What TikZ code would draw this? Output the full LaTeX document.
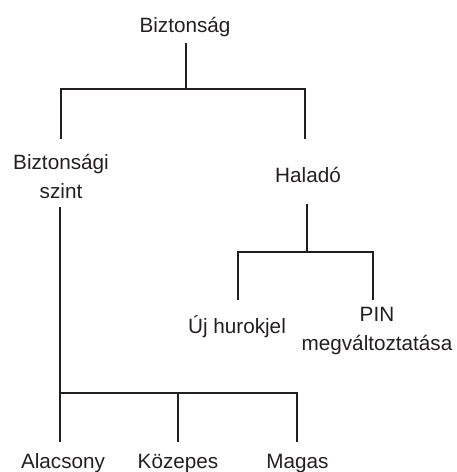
\documentclass[tikz,border=0pt]{standalone}
\usepackage{fontspec}
\setmainfont{Liberation Sans}
\usepackage{xcolor}
\usetikzlibrary{calc}
\definecolor{ink}{HTML}{231F20}
\tikzset{
  label/.style={
    inner sep=0pt,
    anchor=base,
    align=center,
    text=ink,
    font=\fontsize{20.7}{29}\selectfont
  },
  branch/.style={
    draw=ink,
    line width=2.6pt,
    line join=miter
  },
  every picture/.style = {
    x=1pt, y=-1pt
  }
}
\begin{document}
\begin{tikzpicture}
  \useasboundingbox (0,0) rectangle (456,472);
  % labels (base = last line)
  \node[label] (root) at (185,32) {Biztonság};
  \node[label] (sec) at (61,198) {Biztonsági\\szint};
  \node[label] (adv) at (308,182) {Haladó};
  \node[label] (new) at (237,333) {Új hurokjel};
  \node[label] (pin) at (377,350) {PIN\\megváltoztatása};
  \node[label] (low) at (63,468) {Alacsony};
  \node[label] (mid) at (178,468) {Közepes};
  \node[label] (high) at (297.5,468) {Magas};
  % forks
  \coordinate (rootj) at ([xshift=1pt,yshift=-57pt]root.base);
  \coordinate (advj) at ([xshift=-1pt,yshift=-70pt]adv.base);
  \coordinate (secj) at ([xshift=-1pt,yshift=-195pt]sec.base);
  % tree
  \draw[branch] ([xshift=1pt,yshift=-11pt]root.base) -- (rootj);
  \draw[branch] ([yshift=59pt]sec.base) |- (rootj) -| ([xshift=-3pt,yshift=43pt]adv.base);
  \draw[branch] ([xshift=-1pt,yshift=-22pt]adv.base) -- (advj);
  \draw[branch] ([xshift=1pt,yshift=33pt]new.base) |- (advj) -| ([xshift=-4pt,yshift=50pt]pin.base);
  \draw[branch] ([xshift=-1pt,yshift=-9pt]sec.base) -- (secj) -- ([xshift=-3pt,yshift=26pt]low.base);
  \draw[branch] (secj) -| ([xshift=-0.5pt,yshift=26pt]high.base);
  \draw[branch] (mid.base |- secj) -- ([yshift=26pt]mid.base);
\end{tikzpicture}
\end{document}
